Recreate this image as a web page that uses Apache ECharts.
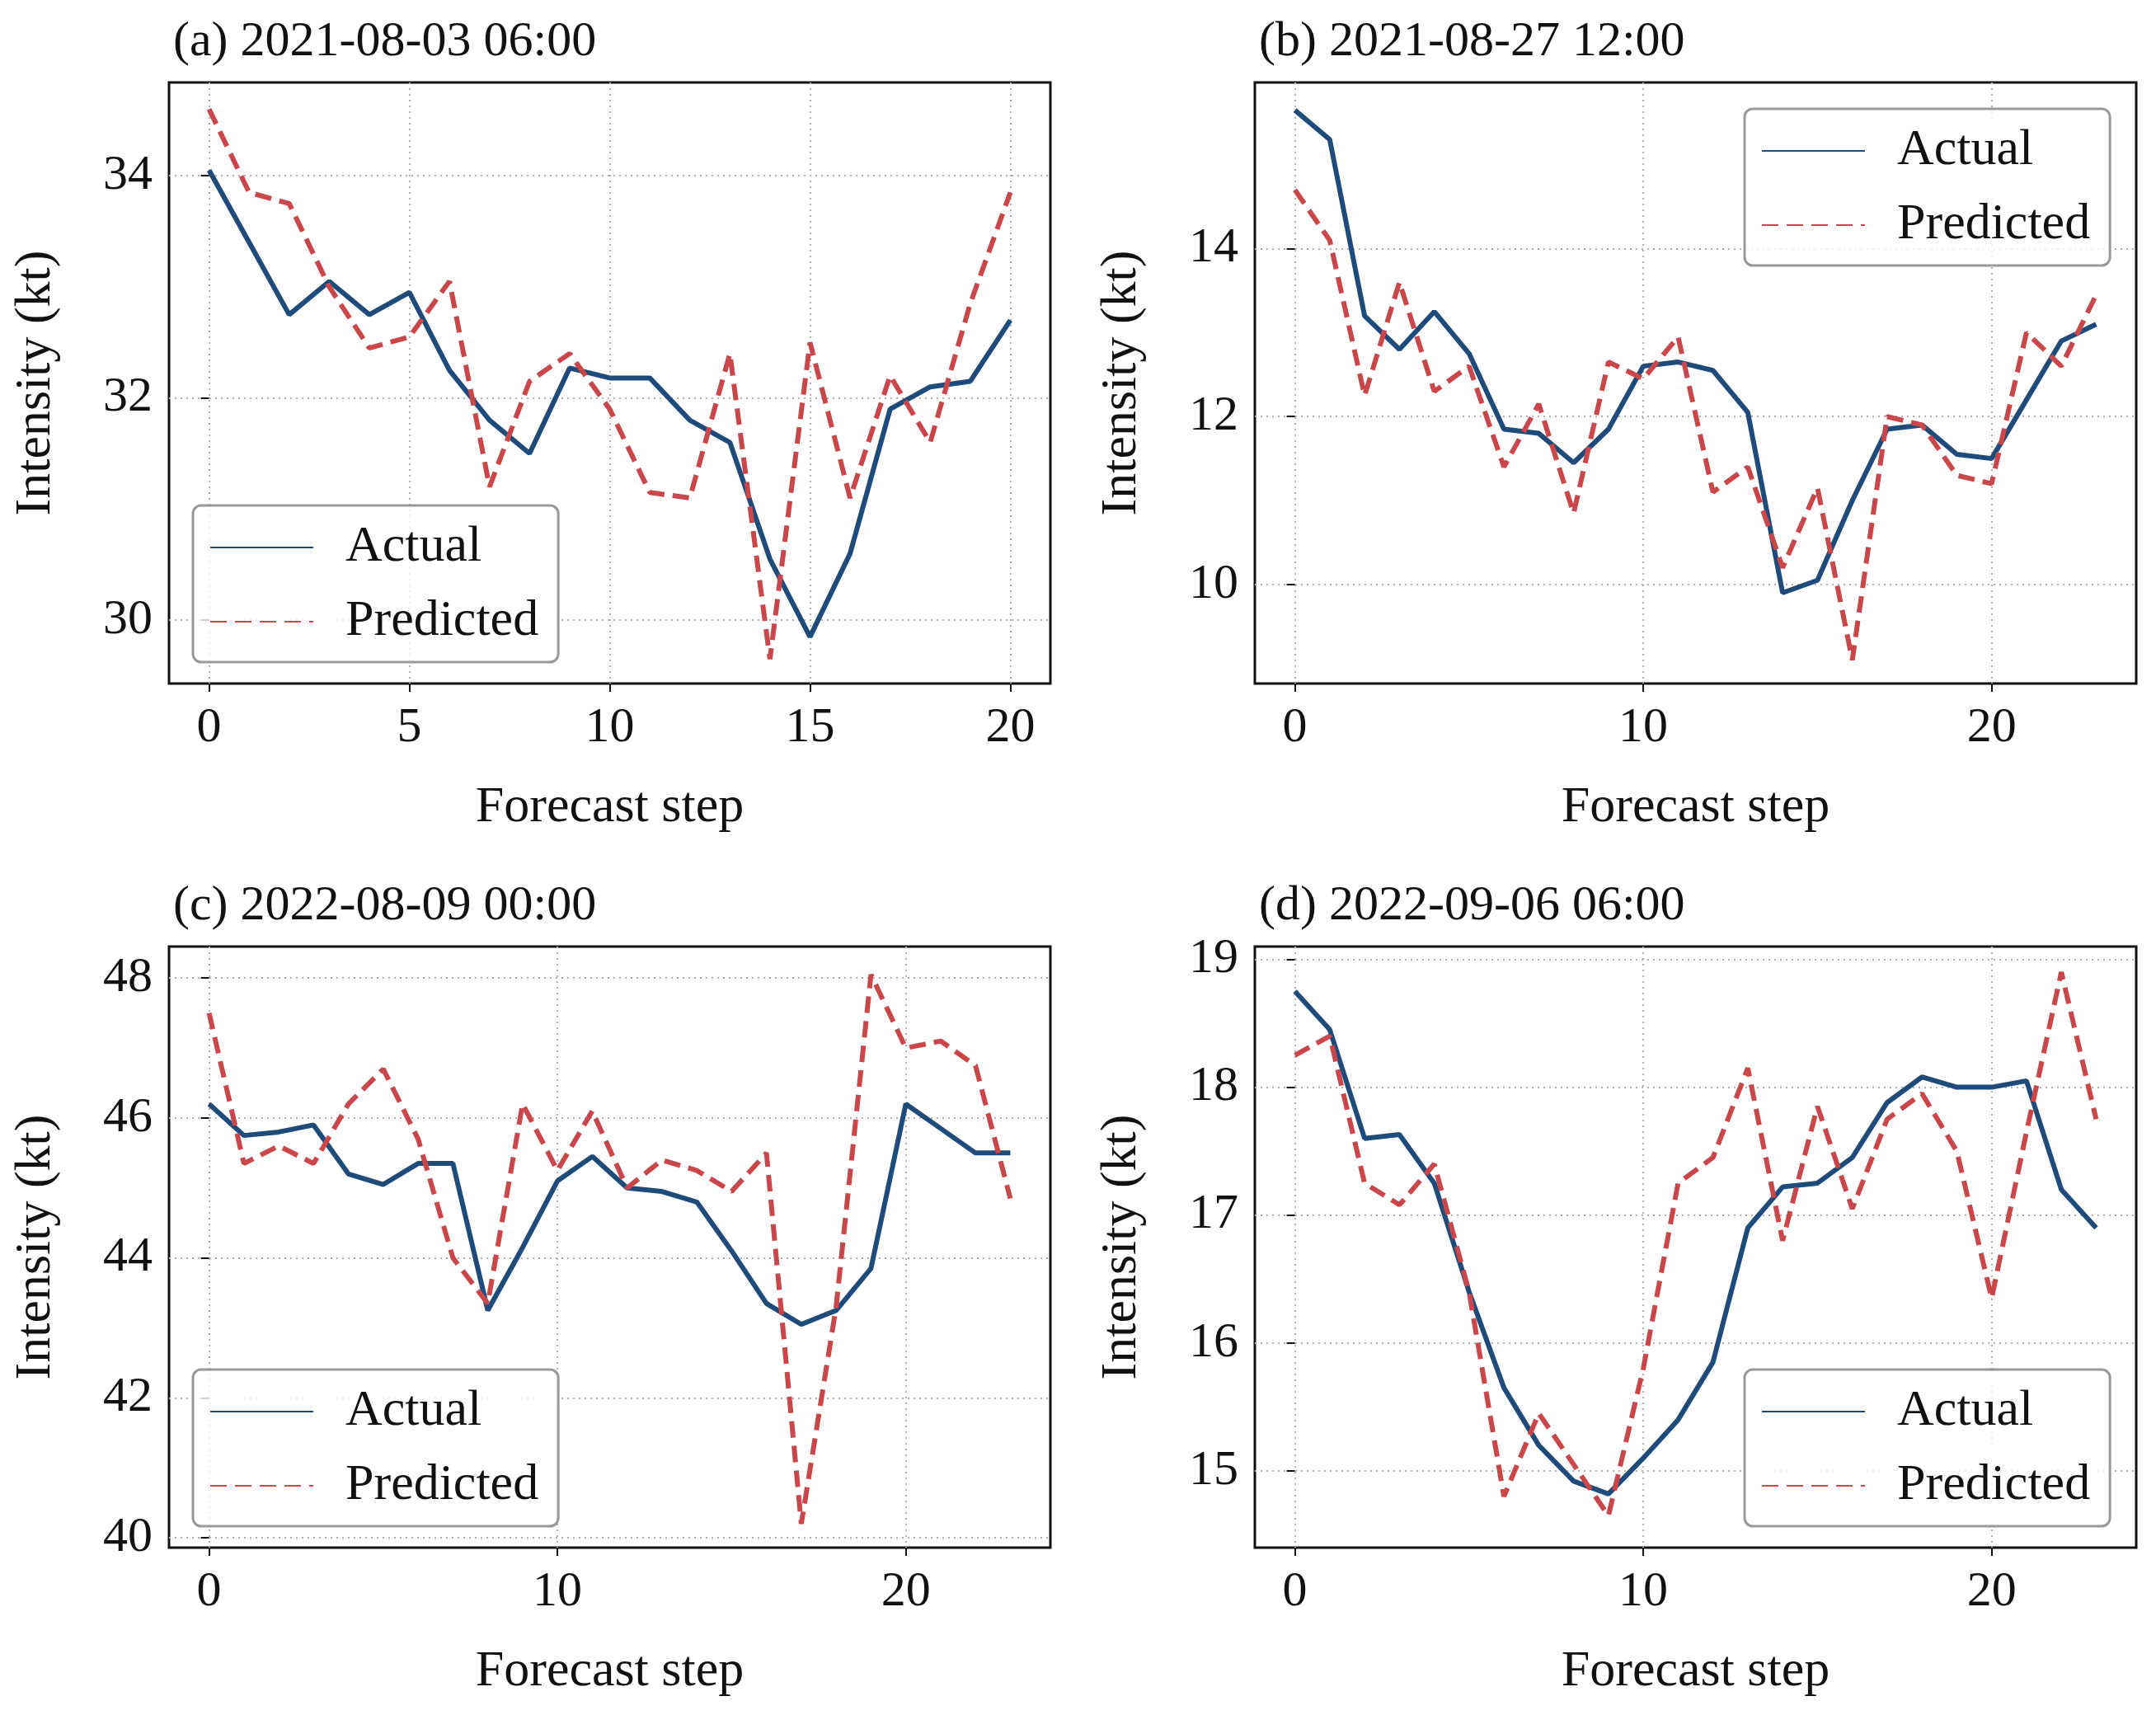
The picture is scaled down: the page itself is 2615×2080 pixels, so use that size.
<!DOCTYPE html>
<html>
<head>
<meta charset="UTF-8">
<title>Forecast intensity</title>
<script src="https://cdn.jsdelivr.net/npm/echarts@6/dist/echarts.min.js"></script>
<style>
  body { margin: 0; background: #fff; }
  #chart { width: 2615px; height: 2080px; }
</style>
</head>
<body>
<div id="chart"></div>
<script>
// panel titles
const titles = ['(a) 2021-08-03 06:00', '(b) 2021-08-27 12:00', '(c) 2022-08-09 00:00', '(d) 2022-09-06 06:00'];

// series values
const actualA = [34.05, 33.4, 32.75, 33.05, 32.75, 32.95, 32.25, 31.8, 31.5, 32.27, 32.18, 32.18, 31.8, 31.6, 30.55, 29.85, 30.6, 31.9, 32.1, 32.15, 32.7];
const predA = [34.6, 33.85, 33.75, 33.0, 32.45, 32.55, 33.05, 31.2, 32.15, 32.4, 31.9, 31.15, 31.1, 32.4, 29.65, 32.5, 31.1, 32.2, 31.6, 32.85, 33.85];
const actualB = [15.65, 15.3, 13.2, 12.8, 13.25, 12.75, 11.85, 11.8, 11.45, 11.85, 12.6, 12.65, 12.55, 12.05, 9.9, 10.05, 11.0, 11.85, 11.9, 11.55, 11.5, 12.2, 12.9, 13.1];
const predB = [14.7, 14.1, 12.25, 13.6, 12.3, 12.6, 11.4, 12.15, 10.85, 12.65, 12.45, 12.95, 11.1, 11.4, 10.2, 11.15, 9.1, 12.0, 11.9, 11.3, 11.2, 13.0, 12.6, 13.45];
const actualC = [46.2, 45.75, 45.8, 45.9, 45.2, 45.05, 45.35, 45.35, 43.25, 44.15, 45.1, 45.45, 45.0, 44.95, 44.8, 44.1, 43.35, 43.05, 43.25, 43.85, 46.2, 45.85, 45.5, 45.5];
const predC = [47.5, 45.35, 45.6, 45.35, 46.2, 46.7, 45.7, 44.0, 43.35, 46.2, 45.25, 46.1, 45.0, 45.4, 45.25, 44.95, 45.5, 40.2, 43.3, 48.05, 47.0, 47.1, 46.75, 44.85];
const actualD = [18.75, 18.45, 17.6, 17.63, 17.25, 16.4, 15.65, 15.2, 14.92, 14.82, 15.1, 15.4, 15.85, 16.9, 17.22, 17.25, 17.45, 17.88, 18.08, 18.0, 18.0, 18.05, 17.2, 16.9];
const predD = [18.25, 18.4, 17.25, 17.08, 17.4, 16.4, 14.8, 15.45, 15.05, 14.65, 15.8, 17.25, 17.45, 18.15, 16.8, 17.85, 17.05, 17.75, 17.95, 17.5, 16.35, 17.65, 18.9, 17.75];

// tick labels
const xTicksA = [0, 5, 10, 15, 20];
const xTicksB = [0, 10, 20];
const yTicksA = [30, 32, 34];
const yTicksB = [10, 12, 14];
const yTicksC = [40, 42, 44, 46, 48];
const yTicksD = [15, 16, 17, 18, 19];

const panels = [
  { actual: actualA, pred: predA, xt: xTicksA, yt: yTicksA, xr: [-1, 21], yr: [29.43, 34.84], left: 205, top: 100, leg: { left: 234, top: 613 } },
  { actual: actualB, pred: predB, xt: xTicksB, yt: yTicksB, xr: [-1.15, 24.15], yr: [8.82, 15.98], left: 1522, top: 100, leg: { left: 2116, top: 132 } },
  { actual: actualC, pred: predC, xt: xTicksB, yt: yTicksC, xr: [-1.15, 24.15], yr: [39.86, 48.45], left: 205, top: 1148, leg: { left: 234, top: 1661 } },
  { actual: actualD, pred: predD, xt: xTicksB, yt: yTicksD, xr: [-1.15, 24.15], yr: [14.4, 19.1], left: 1522, top: 1148, leg: { left: 2116, top: 1661 } }
];

const font = 'Liberation Serif';
const blue = '#1f4b7a';
const red = '#c9474a';
const gridLine = { show: true, lineStyle: { color: '#b0b0b0', type: [2, 5], width: 2 } };

const option = { animation: false, title: [], grid: [], xAxis: [], yAxis: [], legend: [], series: [] };

panels.forEach((p, i) => {
  option.title.push({ text: titles[i], left: p.left, top: p.top - 84,
    textStyle: { fontFamily: font, fontSize: 60, fontWeight: 'normal', color: '#111' } });
  option.grid.push({ left: p.left, top: p.top, width: 1069, height: 729, show: true,
    borderColor: '#111', borderWidth: 3, backgroundColor: 'transparent' });
  option.xAxis.push({
    type: 'value', gridIndex: i, min: p.xr[0], max: p.xr[1],
    name: 'Forecast step', nameLocation: 'middle', nameGap: 120,
    nameTextStyle: { fontFamily: font, fontSize: 62, color: '#111' },
    axisLine: { show: false },
    axisTick: { show: true, customValues: p.xt, length: 10, lineStyle: { color: '#111', width: 2 } },
    axisLabel: { customValues: p.xt, fontFamily: font, fontSize: 60, color: '#111', margin: 24 },
    splitLine: gridLine
  });
  option.yAxis.push({
    type: 'value', gridIndex: i, min: p.yr[0], max: p.yr[1],
    name: 'Intensity (kt)', nameLocation: 'middle', nameGap: 130,
    nameTextStyle: { fontFamily: font, fontSize: 62, color: '#111' },
    axisLine: { show: false },
    axisTick: { show: true, customValues: p.yt, length: 10, lineStyle: { color: '#111', width: 2 } },
    axisLabel: { customValues: p.yt, fontFamily: font, fontSize: 60, color: '#111', margin: 20 },
    splitLine: gridLine
  });
  const names = ['Actual', 'Predicted'];
  option.legend.push({
    data: names.map(n => n + '\u200b'.repeat(i)),
    orient: 'vertical', left: p.leg.left, top: p.leg.top,
    itemWidth: 125, itemHeight: 20, itemGap: 28,
    padding: [20, 24, 18, 20],
    borderColor: '#999', borderWidth: 3, borderRadius: 10,
    backgroundColor: 'rgba(255,255,255,0.8)',
    itemStyle: { opacity: 0 },
    textStyle: { fontFamily: font, fontSize: 62, color: '#111', padding: [0, 0, 0, 34] }
  });
  option.series.push({
    name: 'Actual' + '\u200b'.repeat(i), type: 'line', xAxisIndex: i, yAxisIndex: i,
    data: p.actual.map((v, k) => [k, v]), showSymbol: false, symbol: 'none',
    lineStyle: { color: blue, width: 6 }, itemStyle: { color: blue }
  });
  option.series.push({
    name: 'Predicted' + '\u200b'.repeat(i), type: 'line', xAxisIndex: i, yAxisIndex: i,
    data: p.pred.map((v, k) => [k, v]), showSymbol: false, symbol: 'none',
    lineStyle: { color: red, width: 6, type: [20, 10] }, itemStyle: { color: red }
  });
});

const chart = echarts.init(document.getElementById('chart'));
chart.setOption(option);
</script>
</body>
</html>
